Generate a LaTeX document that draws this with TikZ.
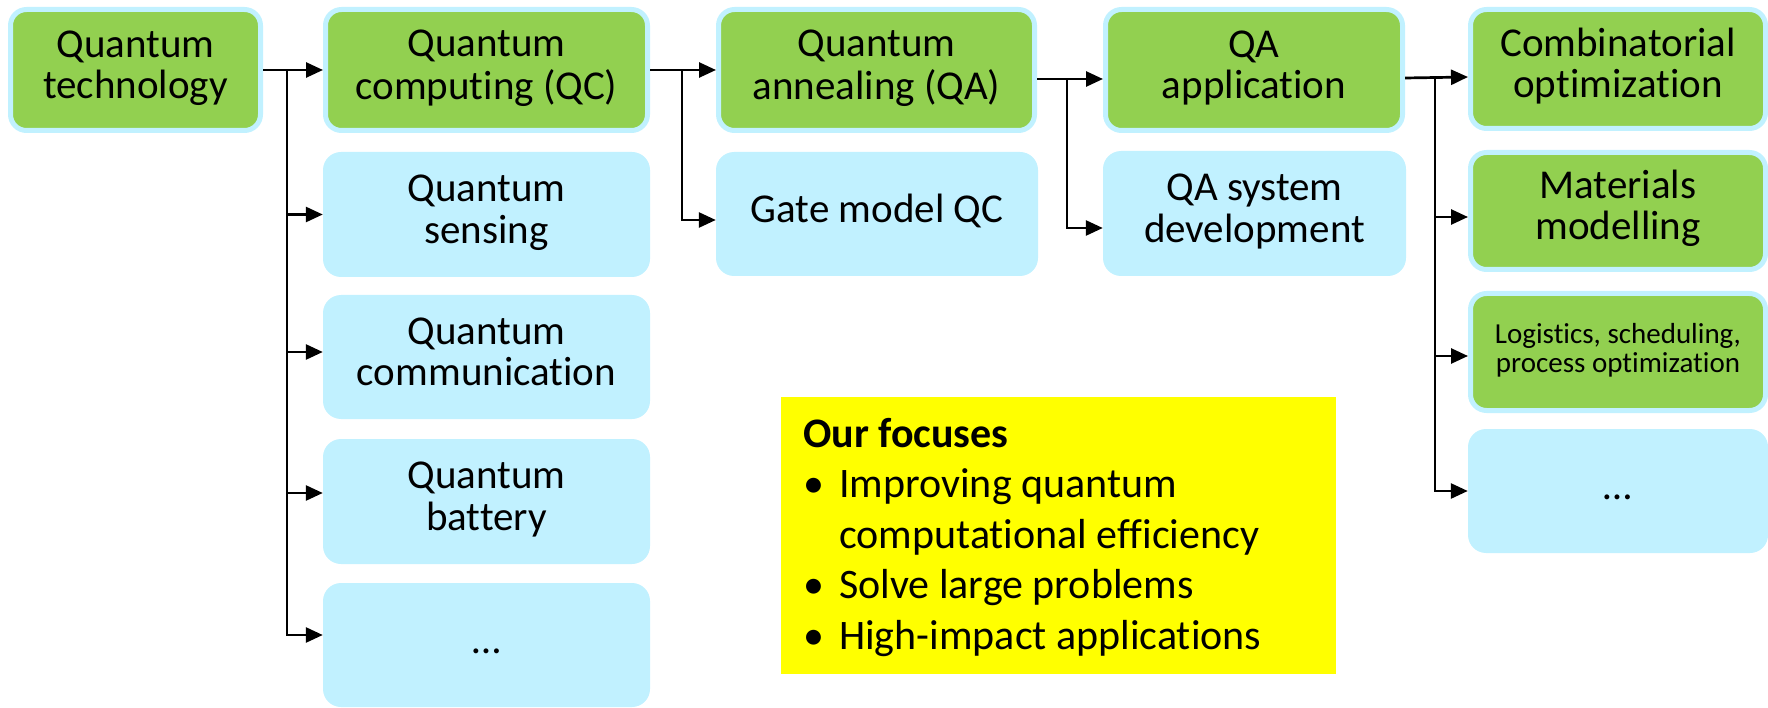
\documentclass[tikz,border=0pt]{standalone}
\usepackage{fontspec}
\setmainfont{Carlito}[RawFeature={-liga;-clig;-dlig;-calt}]
\usetikzlibrary{arrows.meta}
\definecolor{gr}{RGB}{146,208,80}
\definecolor{lb}{RGB}{193,241,255}
\definecolor{yl}{RGB}{255,255,0}
\newcommand\mainsz{\fontsize{41pt}{40pt}\selectfont}
\newcommand\smallsz{\fontsize{29pt}{27pt}\selectfont}
\newcommand\focsz{\fontsize{42pt}{50.5pt}\selectfont}
\tikzset{
  gbox/.style={draw=lb, line width=5pt, fill=gr, rounded corners=16pt, inner sep=0pt, align=center, font=\mainsz},
  bbox/.style={fill=lb, rounded corners=18pt, inner sep=0pt, align=center, font=\mainsz},
  arr/.style={line width=2.7pt, -{Triangle[length=17pt,width=15pt]}},
  focusbox/.style={fill=yl, inner sep=0pt, minimum width=555pt, minimum height=277pt, anchor=north west}
}
\begin{document}
\begin{tikzpicture}[x=1pt,y=-1pt]
\useasboundingbox (0,0) rectangle (1768,708);
% column 1
\node[gbox, minimum width=250pt, minimum height=121pt] (qt) at (135.5,70) {Quantum\strut\\technology\strut};
% column 2
\node[gbox, minimum width=322pt, minimum height=121pt] (qc) at (486.5,70) {Quantum\strut\\computing (QC)\strut};
\node[bbox, minimum width=327pt, minimum height=125pt] (qs) at (486.5,214.5) {Quantum\strut\\sensing\strut};
\node[bbox, minimum width=327pt, minimum height=124pt] (qcomm) at (486.5,357) {Quantum\strut\\communication\strut};
\node[bbox, minimum width=327pt, minimum height=125pt] (qbat) at (486.5,501.5) {Quantum\strut\\battery\strut};
\node[bbox, minimum width=327pt, minimum height=124pt] (dotsa) at (486.5,645) {\strut…};
% column 3
\node[gbox, minimum width=316pt, minimum height=121pt] (qa) at (876.5,70) {Quantum\strut\\annealing (QA)\strut};
\node[bbox, minimum width=322pt, minimum height=124pt] (gate) at (877,214) {\strut Gate model QC};
% column 4
\node[gbox, minimum width=297pt, minimum height=121pt] (qaapp) at (1254,70) {QA\strut\\application\strut};
\node[bbox, minimum width=303pt, minimum height=125pt] (qasys) at (1254.5,213.5) {QA system\strut\\development\strut};
% column 5
\node[gbox, minimum width=295pt, minimum height=119pt] (comb) at (1618,69) {Combinatorial\strut\\optimization\strut};
\node[gbox, minimum width=295pt, minimum height=117pt] (mat) at (1618,211) {Materials\strut\\modelling\strut};
\node[gbox, minimum width=295pt, minimum height=117pt, font=\smallsz] (logi) at (1618,352) {Logistics, scheduling,\strut\\process optimization\strut};
\node[bbox, minimum width=300pt, minimum height=124pt] (dotsb) at (1618,491) {\strut…};
% focus box
\node[focusbox] (focus) at (781,397) {};
\node[anchor=base west, inner sep=0pt, font=\focsz] (focustext) at (803,447)
 {\renewcommand\arraystretch{1}\begin{tabular}[t]{@{}l@{}l@{}}
  \multicolumn{2}{@{}l@{}}{\bfseries Our focuses}\\
  \makebox[36pt][l]{\textbullet} & Improving quantum\\
   & computational efficiency\\
  \makebox[36pt][l]{\textbullet} & Solve large problems\\
  \makebox[36pt][l]{\textbullet} & High-impact applications
 \end{tabular}};
% connectors
\coordinate (j1) at (287,70);
\coordinate (j2) at (682,70);
\coordinate (j3) at (1067,79);
\coordinate (j4) at (1435,77);
\draw[arr] (qt.east) -- (qc.west);
\draw[arr] (j1) |- (qs.west);
\draw[arr] (j1) |- ([yshift=5pt]qcomm.west);
\draw[arr] (j1) |- ([yshift=8.5pt]qbat.west);
\draw[arr] (j1) |- ([yshift=10pt]dotsa.west);
\draw[arr] (qc.east) -- (qa.west);
\draw[arr] (j2) |- ([yshift=-6pt]gate.west);
\draw[arr] ([yshift=-9pt]qa.east) -- ([yshift=-9pt]qaapp.west);
\draw[arr] (j3) |- ([yshift=-14.5pt]qasys.west);
\draw[arr] ([yshift=-8pt]qaapp.east) -- ([yshift=-8pt]comb.west);
\draw[arr] (j4) |- ([yshift=-6pt]mat.west);
\draw[arr] (j4) |- ([yshift=-4pt]logi.west);
\draw[arr] (j4) |- (dotsb.west);
\end{tikzpicture}
\end{document}
